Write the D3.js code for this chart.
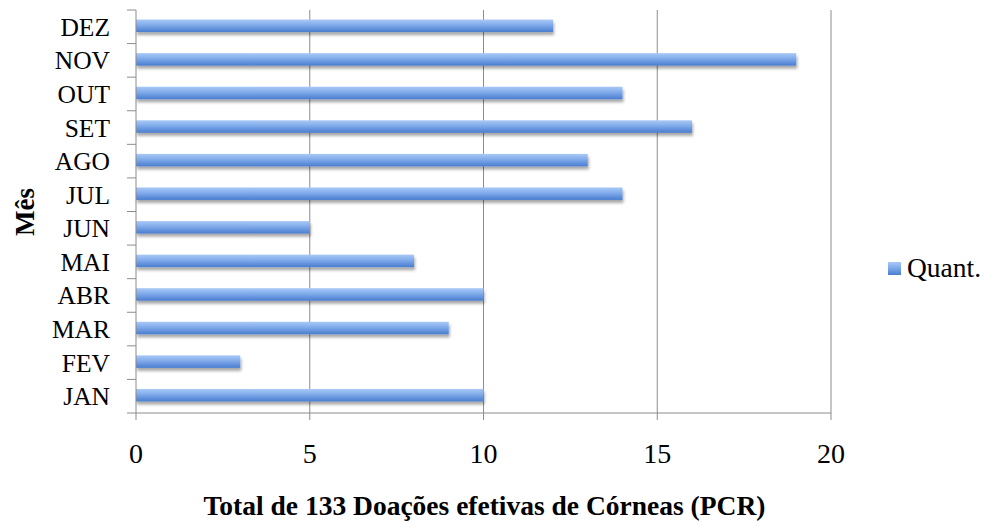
<!DOCTYPE html>
<html>
<head>
<meta charset="utf-8">
<script src="https://cdn.jsdelivr.net/npm/d3@7"></script>
<style>
  body { margin: 0; background: #fff; }
  text { font-family: "Liberation Serif", "Times New Roman", serif; fill: #000; }
</style>
</head>
<body>
<div id="chart"></div>
<script>
// Donations per month, bottom (JAN) to top (DEZ)
const months = ["JAN", "FEV", "MAR", "ABR", "MAI", "JUN", "JUL", "AGO", "SET", "OUT", "NOV", "DEZ"];
const quant = [10, 3, 9, 10, 8, 5, 14, 13, 16, 14, 19, 12];
const xTicks = [0, 5, 10, 15, 20];
const seriesName = "Quant.";
const xTitle = "Total de 133 Doações efetivas de Córneas (PCR)";
const yTitle = "Mês";

const W = 986, H = 522;
const plot = { left: 136, right: 831, top: 10, bottom: 413 };

const svg = d3.select('#chart').append('svg')
    .attr('width', W).attr('height', H);

const defs = svg.append('defs');
const grad = defs.append('linearGradient')
    .attr('id', 'barGrad').attr('x1', 0).attr('y1', 0).attr('x2', 0).attr('y2', 1);
grad.append('stop').attr('offset', '0%').attr('stop-color', '#a9c9f7');
grad.append('stop').attr('offset', '45%').attr('stop-color', '#7faaea');
grad.append('stop').attr('offset', '100%').attr('stop-color', '#4a7dcf');

const shadow = defs.append('filter').attr('id', 'shadow')
    .attr('x', '-5%').attr('y', '-50%').attr('width', '110%').attr('height', '220%');
shadow.append('feDropShadow')
    .attr('dx', 1).attr('dy', 3).attr('stdDeviation', 1.6)
    .attr('flood-color', '#000').attr('flood-opacity', 0.35);

const x = d3.scaleLinear().domain([0, 20]).range([plot.left, plot.right]);
const y = d3.scaleBand().domain(months.slice().reverse())
    .range([plot.top, plot.bottom]).paddingInner(0).paddingOuter(0);

// gridlines
svg.append('g').selectAll('line')
    .data(xTicks.filter(d => d > 0))
    .join('line')
    .attr('x1', d => x(d)).attr('x2', d => x(d))
    .attr('y1', plot.top).attr('y2', plot.bottom)
    .attr('stroke', '#8c8c8c').attr('stroke-width', 1);

// bars
const barH = 12.5;
svg.append('g').selectAll('rect')
    .data(months.map((m, i) => ({ m, v: quant[i] })))
    .join('rect')
    .attr('x', x(0))
    .attr('y', d => y(d.m) + y.bandwidth() / 2 - barH / 2 - 1)
    .attr('width', d => x(d.v) - x(0))
    .attr('height', barH)
    .attr('fill', 'url(#barGrad)')
    .attr('filter', 'url(#shadow)');

// y axis
const yAxis = svg.append('g');
yAxis.append('line')
    .attr('x1', plot.left).attr('x2', plot.left)
    .attr('y1', plot.top).attr('y2', plot.bottom)
    .attr('stroke', '#8c8c8c');
const bounds = months.map(m => y(m)).concat([plot.bottom]);
yAxis.selectAll('line.tick')
    .data(bounds)
    .join('line').attr('class', 'tick')
    .attr('x1', plot.left - 9).attr('x2', plot.left)
    .attr('y1', d => d).attr('y2', d => d)
    .attr('stroke', '#8c8c8c');
yAxis.selectAll('text')
    .data(months)
    .join('text')
    .attr('x', 110)
    .attr('y', d => y(d) + y.bandwidth() / 2 + 9)
    .attr('text-anchor', 'end')
    .attr('font-size', 25.5)
    .text(d => d);

// x axis
const xAxis = svg.append('g');
xAxis.append('line')
    .attr('x1', plot.left).attr('x2', plot.right)
    .attr('y1', plot.bottom).attr('y2', plot.bottom)
    .attr('stroke', '#8c8c8c');
xAxis.selectAll('line.tick')
    .data(xTicks)
    .join('line').attr('class', 'tick')
    .attr('x1', d => x(d)).attr('x2', d => x(d))
    .attr('y1', plot.bottom).attr('y2', plot.bottom + 7)
    .attr('stroke', '#8c8c8c');
xAxis.selectAll('text')
    .data(xTicks)
    .join('text')
    .attr('x', d => x(d))
    .attr('y', 463)
    .attr('text-anchor', 'middle')
    .attr('font-size', 28)
    .text(d => d);

// axis titles
svg.append('text')
    .attr('x', (plot.left + plot.right) / 2 + 1)
    .attr('y', 515)
    .attr('text-anchor', 'middle')
    .attr('font-size', 27.5)
    .attr('font-weight', 'bold')
    .text(xTitle);

svg.append('text')
    .attr('transform', 'translate(34,212) rotate(-90)')
    .attr('text-anchor', 'middle')
    .attr('font-size', 27)
    .attr('font-weight', 'bold')
    .text(yTitle);

// legend
const leg = svg.append('g');
leg.append('rect')
    .attr('x', 888).attr('y', 262).attr('width', 13).attr('height', 13)
    .attr('fill', 'url(#barGrad)');
leg.append('text')
    .attr('x', 907).attr('y', 277)
    .attr('font-size', 27.5)
    .text(seriesName);
</script>
</body>
</html>
